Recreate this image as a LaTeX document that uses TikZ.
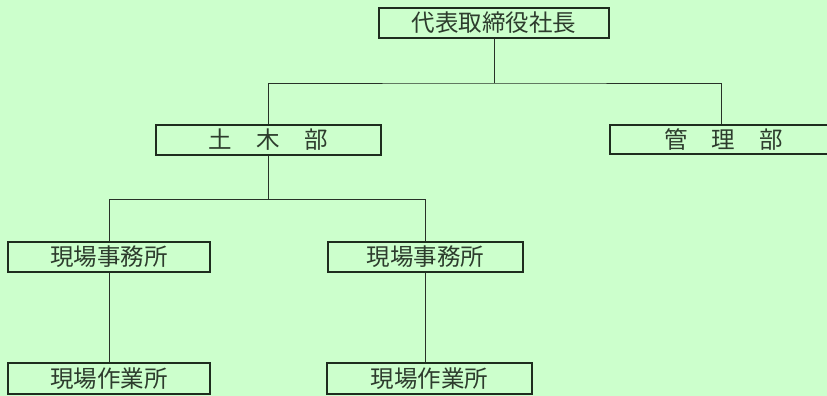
\documentclass[tikz,border=0pt]{standalone}
\usepackage{fontspec}
\newfontfamily\cjk{Noto Sans CJK JP}
\definecolor{bg}{RGB}{204,255,204}
\definecolor{boxline}{RGB}{30,45,30}
\definecolor{txt}{RGB}{45,60,45}
\definecolor{conn}{RGB}{40,50,40}
\tikzset{
  orgbox/.style={draw=boxline, line width=1.8pt, fill=bg, rectangle, inner sep=0pt,
    font=\cjk\fontsize{23.5}{23.5}\selectfont, text=txt},
  link/.style={draw=conn, line width=0.8pt}
}
\begin{document}
\begin{tikzpicture}[x=1pt,y=-1pt]
\fill[bg] (0,0) rectangle (827,396);
\useasboundingbox (0,0) rectangle (827,396);
\node[orgbox, minimum width=230pt, minimum height=30pt] (ceo) at (494,23) {代表取締役社長};
\node[orgbox, minimum width=225pt, minimum height=30pt] (doboku) at (268.5,140) {土\hspace{1.05em}木\hspace{1.05em}部};
\node[orgbox, minimum width=222pt, minimum height=29pt] (kanri) at (721,139.5) {\hspace{0.2em}管\hspace{1.02em}理\hspace{1.02em}部};
\node[orgbox, minimum width=202pt, minimum height=30pt] (jimu1) at (109,257) {現場事務所};
\node[orgbox, minimum width=195pt, minimum height=30pt] (jimu2) at (425.5,257) {現場事務所};
\node[orgbox, minimum width=202pt, minimum height=31pt] (sagyo1) at (109,378.5) {現場作業所};
\node[orgbox, minimum width=205pt, minimum height=31pt] (sagyo2) at (429.5,378.5) {現場作業所};
\coordinate (j1) at (494,83);
\coordinate (j2) at ([yshift=-43pt]doboku.south);
\draw[link] (ceo.south) -- (j1);
\draw[link] (doboku.north) |- (j1) -| (kanri.north);
\draw[link] (doboku.south) -- (j2);
\draw[link] (jimu1.north) |- (j2) -| (jimu2.north);
\draw[link] (jimu1.south) -- (jimu1.south |- sagyo1.north);
\draw[link] (jimu2.south) -- (jimu2.south |- sagyo2.north);
\end{tikzpicture}
\end{document}
